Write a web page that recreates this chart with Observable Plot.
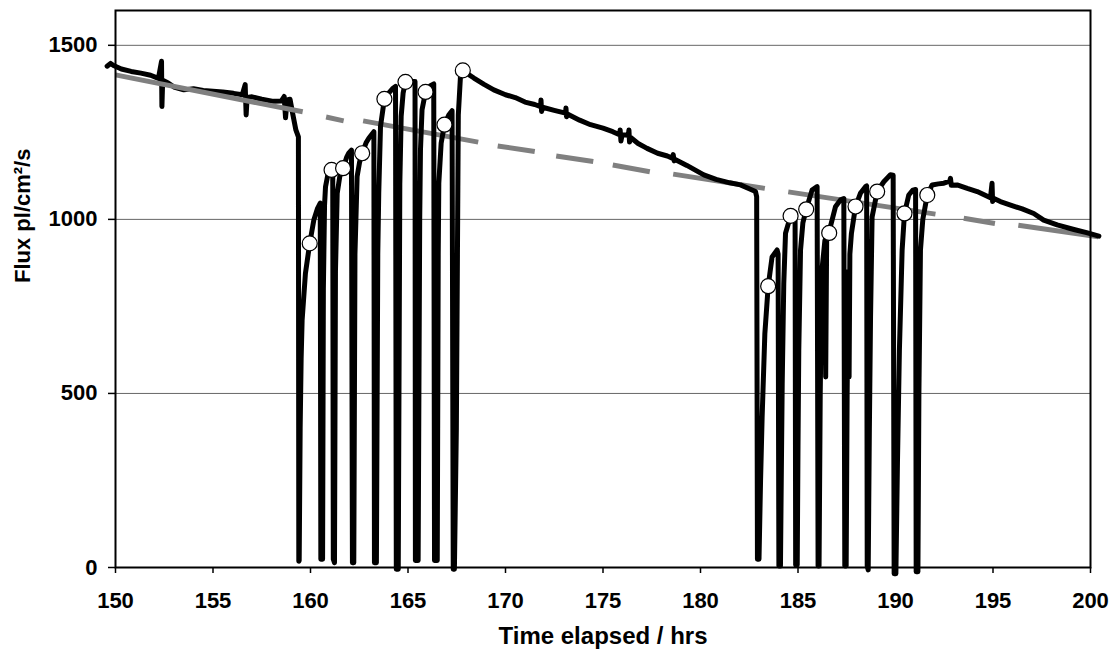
<!DOCTYPE html>
<html>
<head>
<meta charset="utf-8">
<script src="https://cdn.jsdelivr.net/npm/d3@7"></script>
<script src="https://cdn.jsdelivr.net/npm/@observablehq/plot@0.6"></script>
<style>
  html, body { margin: 0; padding: 0; background: #fff; }
</style>
</head>
<body>
<div id="chart"></div>
<script>
const hoursTicks = [150, 155, 160, 165, 170, 175, 180, 185, 190, 195, 200];
const fluxTicks = [0, 500, 1000, 1500];

// Flux trace, [hours, flux]
const traceStart = [
  [149.57,1440],[149.75,1448],[149.9,1442],[150.3,1432],[150.8,1425],[151.3,1420],[151.8,1414],
  [152.2,1405],[152.36,1454],[152.38,1324],[152.42,1400],[152.7,1392],[153.0,1380],[153.5,1372],
  [154.0,1375],[154.5,1370],[155.0,1368],[155.5,1366],[156.05,1362],[156.5,1358],[156.65,1387],
  [156.7,1300],[156.75,1350],[157.0,1352],[157.5,1345],[158.1,1339],[158.5,1340],[158.65,1353],
  [158.72,1292],[158.8,1343],[158.95,1345],[159.1,1300],[159.25,1257],[159.38,1237],[159.4,18]
];
const traceCluster1 = [
  [159.42,20],[159.47,400],[159.52,600],[159.57,710],[159.74,845],[159.96,931],[160.17,998],[160.35,1030],[160.5,1047],[160.53,24],
  [160.62,24],[160.66,800],[160.72,1040],[160.77,1094],[160.89,1128],[161.06,1142],[161.14,1148],[161.17,24],
  [161.23,14],[161.28,850],[161.37,1075],[161.5,1123],[161.67,1147],[161.85,1178],[161.96,1190],[162.1,1199],[162.15,14],
  [162.22,14],[162.28,900],[162.39,1123],[162.52,1165],[162.65,1190],[162.85,1220],[162.99,1233],[163.25,1252],[163.28,14],
  [163.38,14],[163.45,900],[163.5,1075],[163.59,1267],[163.79,1346],[164.0,1362],[164.2,1375],[164.36,1382],[164.4,-5],
  [164.5,-5],[164.58,1100],[164.65,1296],[164.75,1363],[164.87,1395],[165.05,1396],[165.2,1396],[165.36,1396],[165.38,20],
  [165.52,20],[165.6,1000],[165.64,1200],[165.72,1315],[165.9,1366],[166.15,1384],[166.32,1389],[166.36,20],
  [166.5,20],[166.55,900],[166.58,1104],[166.7,1219],[166.87,1272],[167.09,1300],[167.26,1312],[167.32,-5],
  [167.38,-5],[167.48,400],[167.58,1300],[167.7,1420],[167.81,1428]
];
const traceMiddle = [
  [168.0,1420],[168.38,1406],[168.9,1388],[169.4,1372],[170.0,1358],[170.5,1350],[171.0,1337],[171.5,1330],
  [171.8,1324],[171.82,1343],[171.85,1310],[171.9,1322],[172.5,1313],[173.08,1305],[173.1,1320],[173.13,1295],
  [173.2,1302],[173.8,1285],[174.36,1272],[175.0,1262],[175.5,1252],[175.85,1243],[175.88,1257],[175.92,1225],
  [175.98,1243],[176.3,1242],[176.33,1257],[176.36,1222],[176.42,1235],[176.8,1218],[177.26,1204],[177.8,1190],
  [178.3,1182],[178.55,1176],[178.6,1186],[178.65,1168],[178.7,1172],[179.3,1155],[180.17,1128],[180.8,1115],
  [181.5,1105],[182.05,1099],[182.5,1088],[182.82,1080],[182.88,1065],[182.92,24]
];
const traceCluster2 = [
  [183.0,24],[183.08,250],[183.16,431],[183.3,672],[183.47,808],[183.67,892],[183.93,912],[183.98,900],[184.02,4],
  [184.1,4],[184.15,300],[184.19,528],[184.27,816],[184.36,960],[184.62,1010],[184.74,1017],[184.85,1020],[184.88,7],
  [184.96,7],[185.0,350],[185.04,624],[185.13,912],[185.25,990],[185.42,1029],[185.72,1084],[185.98,1094],[186.03,4],
  [186.08,4],[186.14,500],[186.22,850],[186.38,940],[186.42,547],[186.47,945],[186.58,961],[186.92,1036],[187.18,1056],[187.35,1060],[187.4,4],
  [187.47,4],[187.52,500],[187.58,850],[187.62,547],[187.66,900],[187.74,960],[187.95,1037],[188.2,1075],[188.46,1094],[188.52,1096],[188.55,4],
  [188.6,-7],[188.66,400],[188.72,720],[188.8,1007],[189.06,1080],[189.4,1108],[189.74,1128],[189.88,1127],[189.93,-18],
  [190.02,-18],[190.1,300],[190.2,624],[190.34,912],[190.46,1017],[190.68,1070],[190.89,1084],[191.03,1086],[191.06,-12],
  [191.15,-12],[191.2,500],[191.28,912],[191.4,1000],[191.63,1070]
];
const traceEnd = [
  [191.88,1099],[192.2,1102],[192.48,1104],[192.78,1110],[192.82,1118],[192.86,1098],[193.16,1099],[193.68,1089],
  [194.19,1080],[194.87,1062],[194.95,1104],[194.98,1051],[195.05,1060],[195.38,1051],[195.9,1041],[196.5,1030],
  [197.09,1017],[197.6,998],[198.29,984],[199.15,971],[199.8,962],[200.43,952]
];

// Open circle markers
const markerHours = [159.96,161.08,161.67,162.65,163.79,164.87,165.9,166.87,167.81,
                     183.47,184.62,185.42,186.6,187.95,189.06,190.46,191.63];
const markerFlux  = [931,1142,1147,1190,1346,1395,1366,1272,1428,
                     808,1010,1029,961,1037,1080,1017,1070];

// Grey trend line pieces [x1, y1, x2, y2]
const trendFront = [[150,1415,159.6,1309]];
const trendBack = [
  [160.8,1294,161.7,1283],
  [162.7,1283,168.6,1222],
  [169.6,1211,171.5,1195],
  [172.6,1182,174.5,1166],
  [175.5,1156,177.4,1137],
  [178.6,1130,183.3,1089],
  [184.5,1079,192.05,1015],
  [193.5,1003,195.1,988],
  [196.3,983,200.4,950]
];

const trace = [...traceStart, ...traceCluster1, ...traceMiddle, ...traceCluster2, ...traceEnd];
const markers = markerHours.map((h, i) => ({hours: h, flux: markerFlux[i]}));

const font = "'Liberation Sans', Arial, Helvetica, sans-serif";
const gray = "#808080";

const chart = Plot.plot({
  width: 1115,
  height: 654,
  marginLeft: 115,
  marginRight: 25,
  marginTop: 10,
  marginBottom: 87,
  style: {fontFamily: font, fontSize: "22px", fontWeight: "bold", color: "#000", background: "#fff"},
  x: {domain: [150, 200]},
  y: {domain: [0, 1600]},
  marks: [
    Plot.gridY(fluxTicks.filter(d => d > 0), {stroke: "#666", strokeOpacity: 1, strokeWidth: 1}),
    Plot.link(trendBack, {x1: d => d[0], y1: d => d[1], x2: d => d[2], y2: d => d[3], stroke: gray, strokeWidth: 5, strokeLinecap: "butt"}),
    Plot.line(trace, {x: d => d[0], y: d => d[1], stroke: "#000", strokeWidth: 5, strokeLinejoin: "round", strokeLinecap: "round"}),
    Plot.link(trendFront, {x1: d => d[0], y1: d => d[1], x2: d => d[2], y2: d => d[3], stroke: gray, strokeWidth: 5, strokeLinecap: "butt"}),
    Plot.dot(markers, {x: "hours", y: "flux", r: 7.5, fill: "#fff", stroke: "#000", strokeWidth: 1.2}),
    Plot.frame({stroke: "#000", strokeWidth: 2}),
    Plot.axisX({ticks: hoursTicks, tickFormat: d => String(d), tickSize: 6, tickPadding: 19, label: null, stroke: "#000", strokeWidth: 1.5, fontWeight: "bold"}),
    Plot.axisY({ticks: fluxTicks, tickFormat: d => String(d), tickSize: 7, tickPadding: 11, label: null, stroke: "#000", strokeWidth: 1.5, fontWeight: "bold"}),
    Plot.text(["Time elapsed / hrs"], {frameAnchor: "bottom", dy: 76, fontSize: 24, fontWeight: "bold", fill: "#000"}),
    Plot.text(["Flux pl/cm²/s"], {frameAnchor: "left", dx: -93, dy: -6, rotate: -90, fontSize: 22, fontWeight: "bold", fill: "#000"})
  ]
});
document.getElementById("chart").appendChild(chart);
</script>
</body>
</html>
